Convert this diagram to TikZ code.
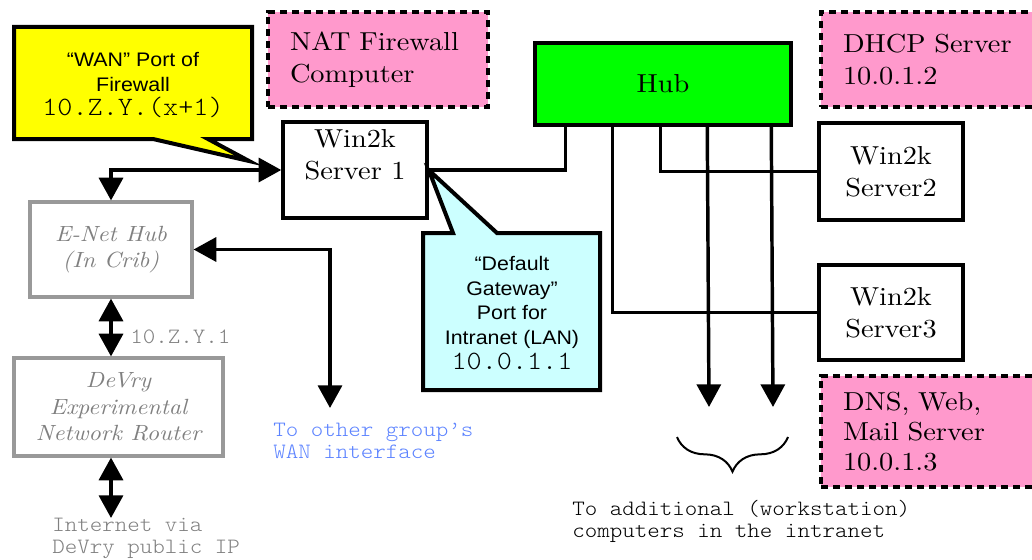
\documentclass[tikz,border=0pt]{standalone}
\usepackage{fontspec}
\setmainfont{lmroman10-regular.otf}[ItalicFont=lmroman10-italic.otf,FakeStretch=1.09]
\newfontfamily\arialf{Liberation Sans}[FakeStretch=1.09]
\newfontfamily\courf{lmmonolt10-regular.otf}[FakeStretch=1.09]
\usetikzlibrary{arrows.meta,calc,decorations.pathreplacing}
\definecolor{pinkfill}{HTML}{FF99CC}
\definecolor{hubgreen}{HTML}{00FF00}
\definecolor{callyellow}{HTML}{FFFF00}
\definecolor{callcyan}{HTML}{CCFFFF}
\definecolor{boxgray}{HTML}{999999}
\definecolor{txtgray}{HTML}{808080}
\definecolor{wanblue}{HTML}{5B82FF}
\begin{document}
\begin{tikzpicture}[x=0.75pt,y=-0.75pt,
  lm/.style={font=\fontsize{19.5}{24}\selectfont},
  srvbox/.style={draw, line width=2.6pt, fill=white, inner sep=0pt, align=center, lm,
                 minimum width=108pt, minimum height=72pt},
  pinkbox/.style={draw, line width=2.6pt, dash pattern=on 5.5pt off 3.5pt, fill=pinkfill,
                  inner xsep=16.5pt, inner ysep=0pt, align=left, lm},
  graybox/.style={draw=boxgray, line width=2.4pt, fill=white, inner sep=0pt, align=center,
                  text=txtgray, font=\fontsize{16.5}{19.5}\selectfont\itshape},
  wire/.style={line width=2.6pt},
  arrowend/.style={-{Triangle[length=17pt,width=18pt]}},
  dblarrow/.style={{Triangle[length=17pt,width=18pt]}-{Triangle[length=17pt,width=18pt]}},
  sanstext/.style={font=\arialf\fontsize{14.7}{18.5}\selectfont, inner sep=0pt, align=center},
  monotext/.style={font=\courf\fontsize{16.4}{16.5}\selectfont, inner sep=0pt, align=left},
  callout/.style={draw, line width=3pt, line join=miter},
]
\useasboundingbox (0,0) rectangle (1032,560);

% pink label boxes
\node[pinkbox, minimum width=165pt, minimum height=71.25pt, text width=132pt] (nat) at (378,59.5)
  {NAT Firewall\\Computer};
\node[pinkbox, minimum width=168pt, minimum height=71.25pt, text width=135pt] (dhcp) at (933,59.5)
  {DHCP Server\\10.0.1.2};
\node[pinkbox, minimum width=168pt, minimum height=83.25pt, text width=135pt,
      font=\fontsize{19.5}{22.5}\selectfont] (dns) at (933,431.5)
  {DNS, Web,\\Mail Server\\10.0.1.3};

% hub and servers
\node[draw, line width=2.6pt, fill=hubgreen, lm, minimum width=192pt, minimum height=61.5pt,
      inner sep=0pt] (hub) at (663,84) {Hub};
\node[srvbox] (s1) at (355,170) {};
\node[lm, inner sep=0pt, align=center, anchor=north] (s1t) at (355,129) {Win2k\\Server 1};
\node[srvbox, minimum height=72.75pt] (s2) at (891,171.5) {Win2k\\Server2};
\node[srvbox, minimum height=71.25pt] (s3) at (891,312.5) {Win2k\\Server3};

% gray boxes
\node[graybox, minimum width=121.5pt, minimum height=71.25pt] (enet) at (111,249.5)
  {E-Net Hub\\(In Crib)};
\node[graybox, minimum width=156.75pt, minimum height=73.5pt,
      font=\fontsize{16.5}{20}\selectfont\itshape] (router) at (118.5,407)
  {DeVry\\Experimental\\Network Router};

% hub connection points
\coordinate (h1) at ($(hub.south west)+(32,0)$);
\coordinate (h2) at ($(hub.south west)+(79,0)$);
\coordinate (h3) at ($(hub.south west)+(127,0)$);
\coordinate (h4) at ($(hub.south west)+(174,0)$);
\coordinate (h5) at ($(hub.south west)+(238,0)$);
\coordinate (d1) at (709,407);
\coordinate (d2) at (773,407);

\draw[wire] (s1.east) -| (h1);
\draw[wire] (h3) |- (s2.west);
\draw[wire] (h2) |- (s3.west);
\draw[wire, arrowend] (h4) -- (d1);
\draw[wire, arrowend] (h5) -- (d2);

% WAN side
\coordinate (wanend) at (330,408);
\coordinate (inet) at (111,518);
\draw[wire, dblarrow] (s1.west) -| (enet.north);
\draw[wire, dblarrow] (enet.east) -| (wanend);
\draw[wire, dblarrow] (enet.south) -- (enet.south |- router.north);
\draw[wire, dblarrow] (router.south -| enet.south) -- (inet);

% brace
\coordinate (b1) at (677,437);
\coordinate (b2) at (788,437);
\draw[line width=1.5pt, decorate, decoration={brace, mirror, amplitude=26pt}] (b1) -- (b2);

% callouts
\coordinate (ytip) at (249,161);
\draw[callout, fill=callyellow] (14,27) -- (252,27) -- (252,139) -- (208,139) -- (ytip)
  -- (153,139) -- (14,139) -- cycle;
\node[sanstext, anchor=north] (ytext) at (133,52)
  {“WAN” Port of\\Firewall\\{\courf\fontsize{19.8}{18.5}\selectfont 10.Z.Y.(x+1)}};

\draw[callout, fill=callcyan] (423,233) -- (453,233) -- (s1.east) -- (497,233) -- (600,233)
  -- (600,390) -- (423,390) -- cycle;
\node[sanstext, anchor=north] (ctext) at (512,256)
  {“Default\\Gateway”\\Port for\\Intranet (LAN)\\{\courf\fontsize{19.8}{18.5}\selectfont 10.0.1.1}};

% free texts
\node[monotext, text=txtgray, anchor=base west] (ipz) at (130,343) {10.Z.Y.1};
\node[monotext, text=txtgray, anchor=north west] (inettxt) at (52,518) {Internet via\\DeVry public IP};
\node[monotext, text=wanblue, anchor=north west] (wantxt) at (273,423) {To other group’s\\WAN interface};
\node[monotext, anchor=north west] (addtxt) at (572,500) {To additional (workstation)\\computers in the intranet};
\end{tikzpicture}
\end{document}
